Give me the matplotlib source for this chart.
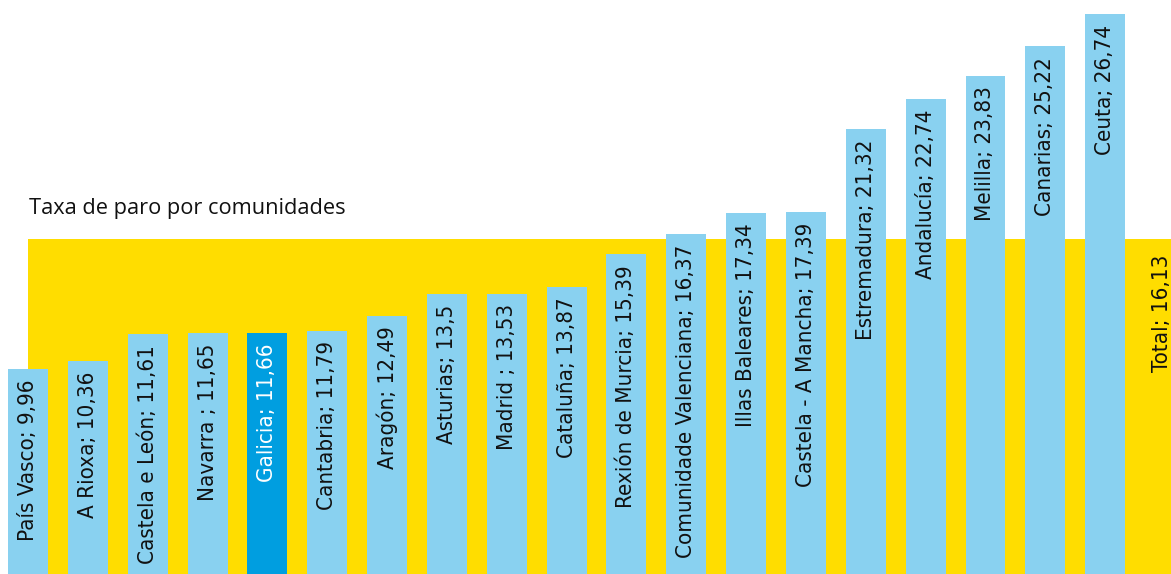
import numpy as np
import matplotlib
matplotlib.use("Agg")
import matplotlib.pyplot as plt

regions = ["País Vasco", "A Rioxa", "Castela e León", "Navarra ", "Galicia",
           "Cantabria", "Aragón", "Asturias", "Madrid ", "Cataluña",
           "Rexión de Murcia", "Comunidade Valenciana", "Illas Baleares",
           "Castela - A Mancha", "Estremadura", "Andalucía", "Melilla",
           "Canarias", "Ceuta"]
rates = [9.96, 10.36, 11.61, 11.65, 11.66, 11.79, 12.49, 13.5, 13.53, 13.87,
         15.39, 16.37, 17.34, 17.39, 21.32, 22.74, 23.83, 25.22, 26.74]
highlight = "Galicia"
total_rate = 16.13

fig = plt.figure(figsize=(11.71, 5.74), dpi=100)
ax = fig.add_axes([0, 0, 1, 1])

lab = dict(rotation=90, ha="center", va="top", fontsize=16,
           family="DejaVu Sans", stretch="condensed", zorder=3)

x = np.arange(len(regions))
# total as a wide yellow band behind the bars
ax.bar(0, total_rate, width=20, align="edge", color="#FFDD00", zorder=1)
ax.text(18.95, total_rate - 0.75, f"Total; {str(total_rate).replace('.', ',')}",
        color="#111111", **lab)

colors = ["#009EE0" if r.strip() == highlight else "#89D1F0" for r in regions]
ax.bar(x, rates, width=0.668, color=colors, zorder=2)

for xi, name, val, c in zip(x, regions, rates, colors):
    txt = f"{name}; {str(val).replace('.', ',')}"
    tc = "white" if name.strip() == highlight else "#111111"
    ax.text(xi, val - 0.5, txt, color=tc, **lab)

ax.text(0.02, 17.05, "Taxa de paro por comunidades", fontsize=15.7,
        family="Open Sans", color="#111111", ha="left", va="bottom")

ax.set_xlim(-0.468, 19.10)
ax.set_ylim(0.284, 27.41)
ax.axis("off")

fig.savefig("out.png", dpi=100)
